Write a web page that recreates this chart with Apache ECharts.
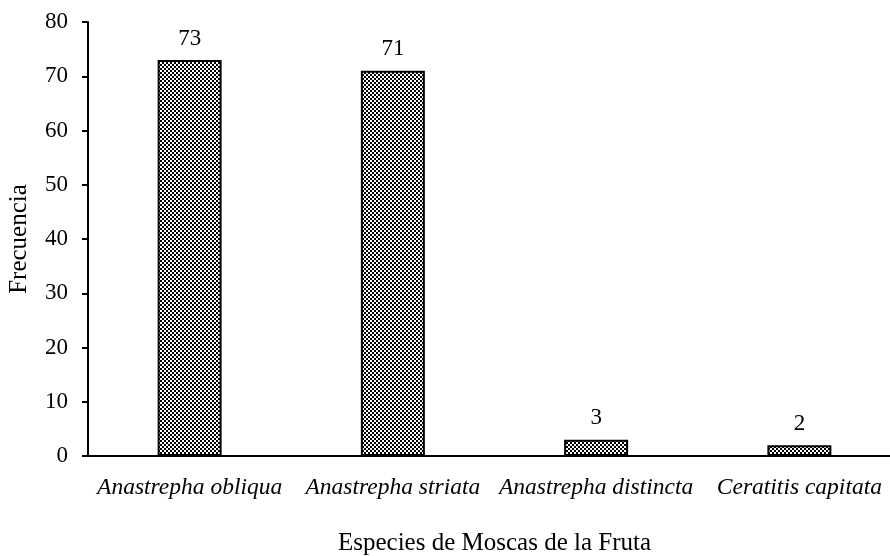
<!DOCTYPE html>
<html><head><meta charset="utf-8">
<script src="https://cdn.jsdelivr.net/npm/echarts@6/dist/echarts.min.js"></script>
<style>html,body{margin:0;padding:0;background:#fff}#c{width:890px;height:556px}</style>
</head><body><div id="c"></div>
<script>
const categories = ['Anastrepha obliqua', 'Anastrepha striata', 'Anastrepha distincta', 'Ceratitis capitata'];
const values = [73, 71, 3, 2];
const yTicks = [0, 10, 20, 30, 40, 50, 60, 70, 80];

const pc = document.createElement('canvas');
pc.width = 4; pc.height = 4;
const ctx = pc.getContext('2d');
ctx.fillStyle = '#fff'; ctx.fillRect(0,0,4,4);
ctx.fillStyle = '#000';
ctx.fillRect(0,0,2,2); ctx.fillRect(2,2,2,2);

const chart = echarts.init(document.getElementById('c'), null, {renderer:'canvas'});
const font = '"Liberation Serif", "Times New Roman", serif';
chart.setOption({
  animation: false,
  grid: {left: 88, top: 22, width: 813, height: 434, containLabel: false, outerBoundsMode: 'none'},
  xAxis: {
    type: 'category', data: categories,
    name: 'Especies de Moscas de la Fruta', nameLocation: 'middle', nameGap: 75,
    nameTextStyle: {fontFamily: font, fontSize: 25, color: '#000'},
    axisLine: {lineStyle: {color: '#000', width: 2}},
    axisTick: {inside: true, length: 7, lineStyle: {color: '#000', width: 2}},
    axisLabel: {interval: 0, hideOverlap: false, fontFamily: font, fontSize: 23.5, fontStyle: 'italic', color: '#000', margin: 20},
    splitLine: {show: false}
  },
  yAxis: {
    type: 'value', min: 0, max: 80, interval: 10,
    name: 'Frecuencia', nameLocation: 'middle', nameGap: 56,
    nameTextStyle: {fontFamily: font, fontSize: 25, color: '#000'},
    axisLine: {show: true, lineStyle: {color: '#000', width: 2}},
    axisTick: {show: true, length: 6, lineStyle: {color: '#000', width: 2}},
    axisLabel: {fontFamily: font, fontSize: 23, color: '#000', margin: 20,
      formatter: v => yTicks.includes(v) ? String(v) : ''},
    splitLine: {show: false}
  },
  series: [{
    type: 'bar', data: values, barWidth: 64,
    itemStyle: {color: {image: pc, repeat: 'repeat'}, borderColor: '#000', borderWidth: 2},
    label: {show: true, position: 'top', distance: 10, fontFamily: font, fontSize: 23, color: '#000'}
  }]
});
</script></body></html>
